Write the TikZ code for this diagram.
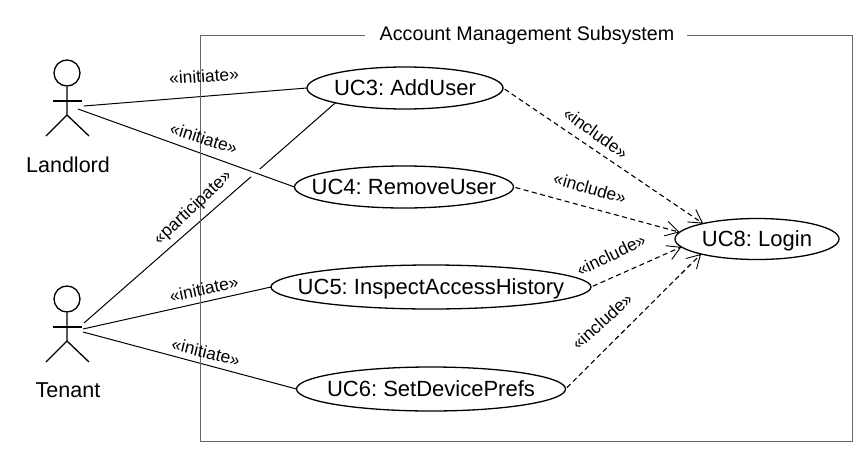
\documentclass[tikz,border=0pt]{standalone}
\usepackage{fontspec}
\setmainfont{Liberation Sans}
\usetikzlibrary{arrows.meta,shapes.geometric}
\frenchspacing
\newcommand{\uctext}[1]{\smash{\makebox[0pt]{\raisebox{-7.8pt}{#1}}}}
\tikzset{
  x=1pt,y=-1pt,
  usecase/.style={ellipse,draw=black,line width=1.3pt,inner sep=0pt,outer sep=0pt,font=\fontsize{22}{24}\selectfont},
  actorhead/.style={circle,draw=black,line width=1.3pt,minimum size=26pt,inner sep=0pt},
  actorlimb/.style={draw=black,line width=1.3pt},
  actorname/.style={font=\fontsize{21.5}{24}\selectfont},
  assoc/.style={draw=black,line width=1pt},
  halo/.style={draw=white,line width=10pt,shorten <=30pt,shorten >=10pt},
  incl/.style={draw=black,line width=1.1pt,dash pattern=on 5pt off 3.5pt,shorten <=2pt,-{Straight Barb[length=13pt,width=15pt,line width=0.9pt]}},
  rel/.style={font=\fontsize{17.4}{20}\selectfont,inner sep=0pt},
  sysbox/.style={draw=black!60,line width=0.9pt},
  systitle/.style={font=\fontsize{19.7}{22}\selectfont,inner sep=0pt}
}
\begin{document}
\begin{tikzpicture}
\useasboundingbox (0,0) rectangle (866,452);
% free ends of the associations
\coordinate (llA) at (84,106);
\coordinate (llB) at (78,109);
\coordinate (tnA) at (84,323);
\coordinate (tnB) at (83,329);
\coordinate (tnC) at (83,332);
\coordinate (boxtl) at (200,35);
\coordinate (boxtr) at (852,35);
\coordinate (boxbl) at (200,441);
\coordinate (boxbr) at (852,441);
\coordinate (gapl) at (365,35);
\coordinate (gapr) at (687,35);
% use cases
\node[usecase,minimum width=196pt,minimum height=42pt] (uc3) at (405,88) {\uctext{UC3: AddUser}};
\node[usecase,minimum width=219pt,minimum height=42pt] (uc4) at (404,187) {\uctext{UC4: RemoveUser}};
\node[usecase,minimum width=320pt,minimum height=44pt] (uc5) at (431,287) {\uctext{UC5: InspectAccessHistory}};
\node[usecase,minimum width=269pt,minimum height=44pt] (uc6) at (431,389) {\uctext{UC6: SetDevicePrefs}};
\node[usecase,minimum width=164pt,minimum height=41pt] (uc8) at (757,239) {\uctext{UC8: Login}};
% associations
\draw[assoc] (tnA) -- (uc3.192);
\path[halo] (llB) -- (uc4.west);
\draw[assoc] (llB) -- (uc4.west);
\draw[assoc] (llA) -- (uc3.west);
\draw[assoc] (tnB) -- (uc5.west);
\draw[assoc] (tnC) -- (uc6.west);
% subsystem box
\draw[sysbox] (gapl) -- (boxtl) -- (boxbl) -- (boxbr) -- (boxtr) -- (gapr);
\node[systitle] (title) at (527,35) {Account Management Subsystem};
% includes
\draw[incl] (uc3.east) -- (uc8.164);
\draw[incl] (uc4.east) -- (uc8.175);
\draw[incl] (uc5.east) -- (uc8.186);
\draw[incl] (uc6.east) -- (uc8.195);
% actors
\node[actorhead] (landlord) at (67,73) {};
\coordinate (llhip) at (67,115);
\draw[actorlimb] (landlord.south) -- (llhip) -- (46,136);
\draw[actorlimb] (llhip) -- (89,136);
\draw[actorlimb] (53,101) -- (82,101);
\node[actorname] (landlordname) at (68,165) {Landlord};
\node[actorhead] (tenant) at (67,299) {};
\coordinate (tnhip) at (67,341);
\draw[actorlimb] (tenant.south) -- (tnhip) -- (46,362);
\draw[actorlimb] (tnhip) -- (89,362);
\draw[actorlimb] (53,327) -- (82,327);
\node[actorname] (tenantname) at (68,390) {Tenant};
% labels
\node[rel,rotate=4] (l1) at (204,76) {«initiate»};
\node[rel,rotate=-18] (l2) at (204,138) {«initiate»};
\node[rel,rotate=43] (l3) at (193,208) {«participate»};
\node[rel,rotate=12] (l4) at (204,289) {«initiate»};
\node[rel,rotate=-14] (l5) at (206,352) {«initiate»};
\node[rel,rotate=-36] (l6) at (596,133) {«include»};
\node[rel,rotate=-16] (l7) at (590,188) {«include»};
\node[rel,rotate=26] (l8) at (611,255) {«include»};
\node[rel,rotate=42] (l9) at (602,321) {«include»};
\end{tikzpicture}
\end{document}
